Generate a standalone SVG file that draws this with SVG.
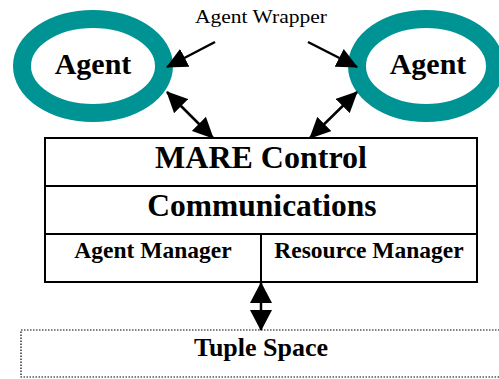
<svg xmlns="http://www.w3.org/2000/svg" width="499" height="379" viewBox="0 0 499 379">
<style>
.ring{fill:#fff;stroke:#009393;stroke-width:18}
.t{font-family:"Liberation Serif","Times New Roman",serif;font-weight:bold;fill:#000;text-anchor:middle}
.box{fill:#fff;stroke:#000;stroke-width:2}
.ln{stroke:#000;stroke-width:2.5;fill:none}
</style>
<defs>
<marker id="ah" markerUnits="userSpaceOnUse" markerWidth="22" markerHeight="20" refX="20" refY="10" orient="auto-start-reverse" viewBox="0 0 22 20">
<path d="M0,0 L21,10 L0,20 Z" fill="#000"/>
</marker>
<marker id="ahv" markerUnits="userSpaceOnUse" markerWidth="22" markerHeight="22" refX="20" refY="11" orient="auto-start-reverse" viewBox="0 0 22 22">
<path d="M0,0 L21,11 L0,22 Z" fill="#000"/>
</marker>
</defs>
<g id="agent-left">
<ellipse class="ring" cx="93" cy="66" rx="71" ry="47"/>
<text class="t" x="93" y="74" font-size="30">Agent</text>
</g>
<g id="agent-right">
<ellipse class="ring" cx="426" cy="66" rx="69" ry="47"/>
<text class="t" x="428" y="74" font-size="30">Agent</text>
</g>
<g id="wrapper-label">
<text x="261" y="23" font-family="'Liberation Serif','Times New Roman',serif" font-size="18" text-anchor="middle" textLength="132" lengthAdjust="spacingAndGlyphs">Agent Wrapper</text>
</g>
<g id="mare">
<rect class="box" x="45" y="138" width="432" height="144"/>
<line class="box" x1="45" y1="186" x2="477" y2="186"/>
<line class="box" x1="45" y1="234" x2="477" y2="234"/>
<line class="box" x1="261" y1="234" x2="261" y2="282"/>
<text class="t" x="261" y="168" font-size="32">MARE Control</text>
<text class="t" x="262" y="216" font-size="31.5">Communications</text>
<text class="t" x="153" y="258" font-size="23.5">Agent Manager</text>
<text class="t" x="369" y="258" font-size="23.5">Resource Manager</text>
</g>
<g id="tuple-space">
<rect x="21" y="330" width="490" height="47" fill="#fff" stroke="#000" stroke-width="1.2" stroke-dasharray="1.5,1.5"/>
<text class="t" x="261" y="356" font-size="26">Tuple Space</text>
</g>
<g id="connectors">
<line class="ln" x1="215" y1="42" x2="167" y2="67" marker-end="url(#ah)"/>
<line class="ln" x1="308" y1="42" x2="357" y2="67" marker-end="url(#ah)"/>
<line class="ln" x1="167" y1="92" x2="213" y2="138" marker-start="url(#ah)" marker-end="url(#ah)"/>
<line class="ln" x1="357" y1="92" x2="310" y2="138" marker-start="url(#ah)" marker-end="url(#ah)"/>
<line class="ln" x1="261" y1="283" x2="261" y2="330" marker-start="url(#ahv)" marker-end="url(#ahv)"/>
</g>
</svg>
